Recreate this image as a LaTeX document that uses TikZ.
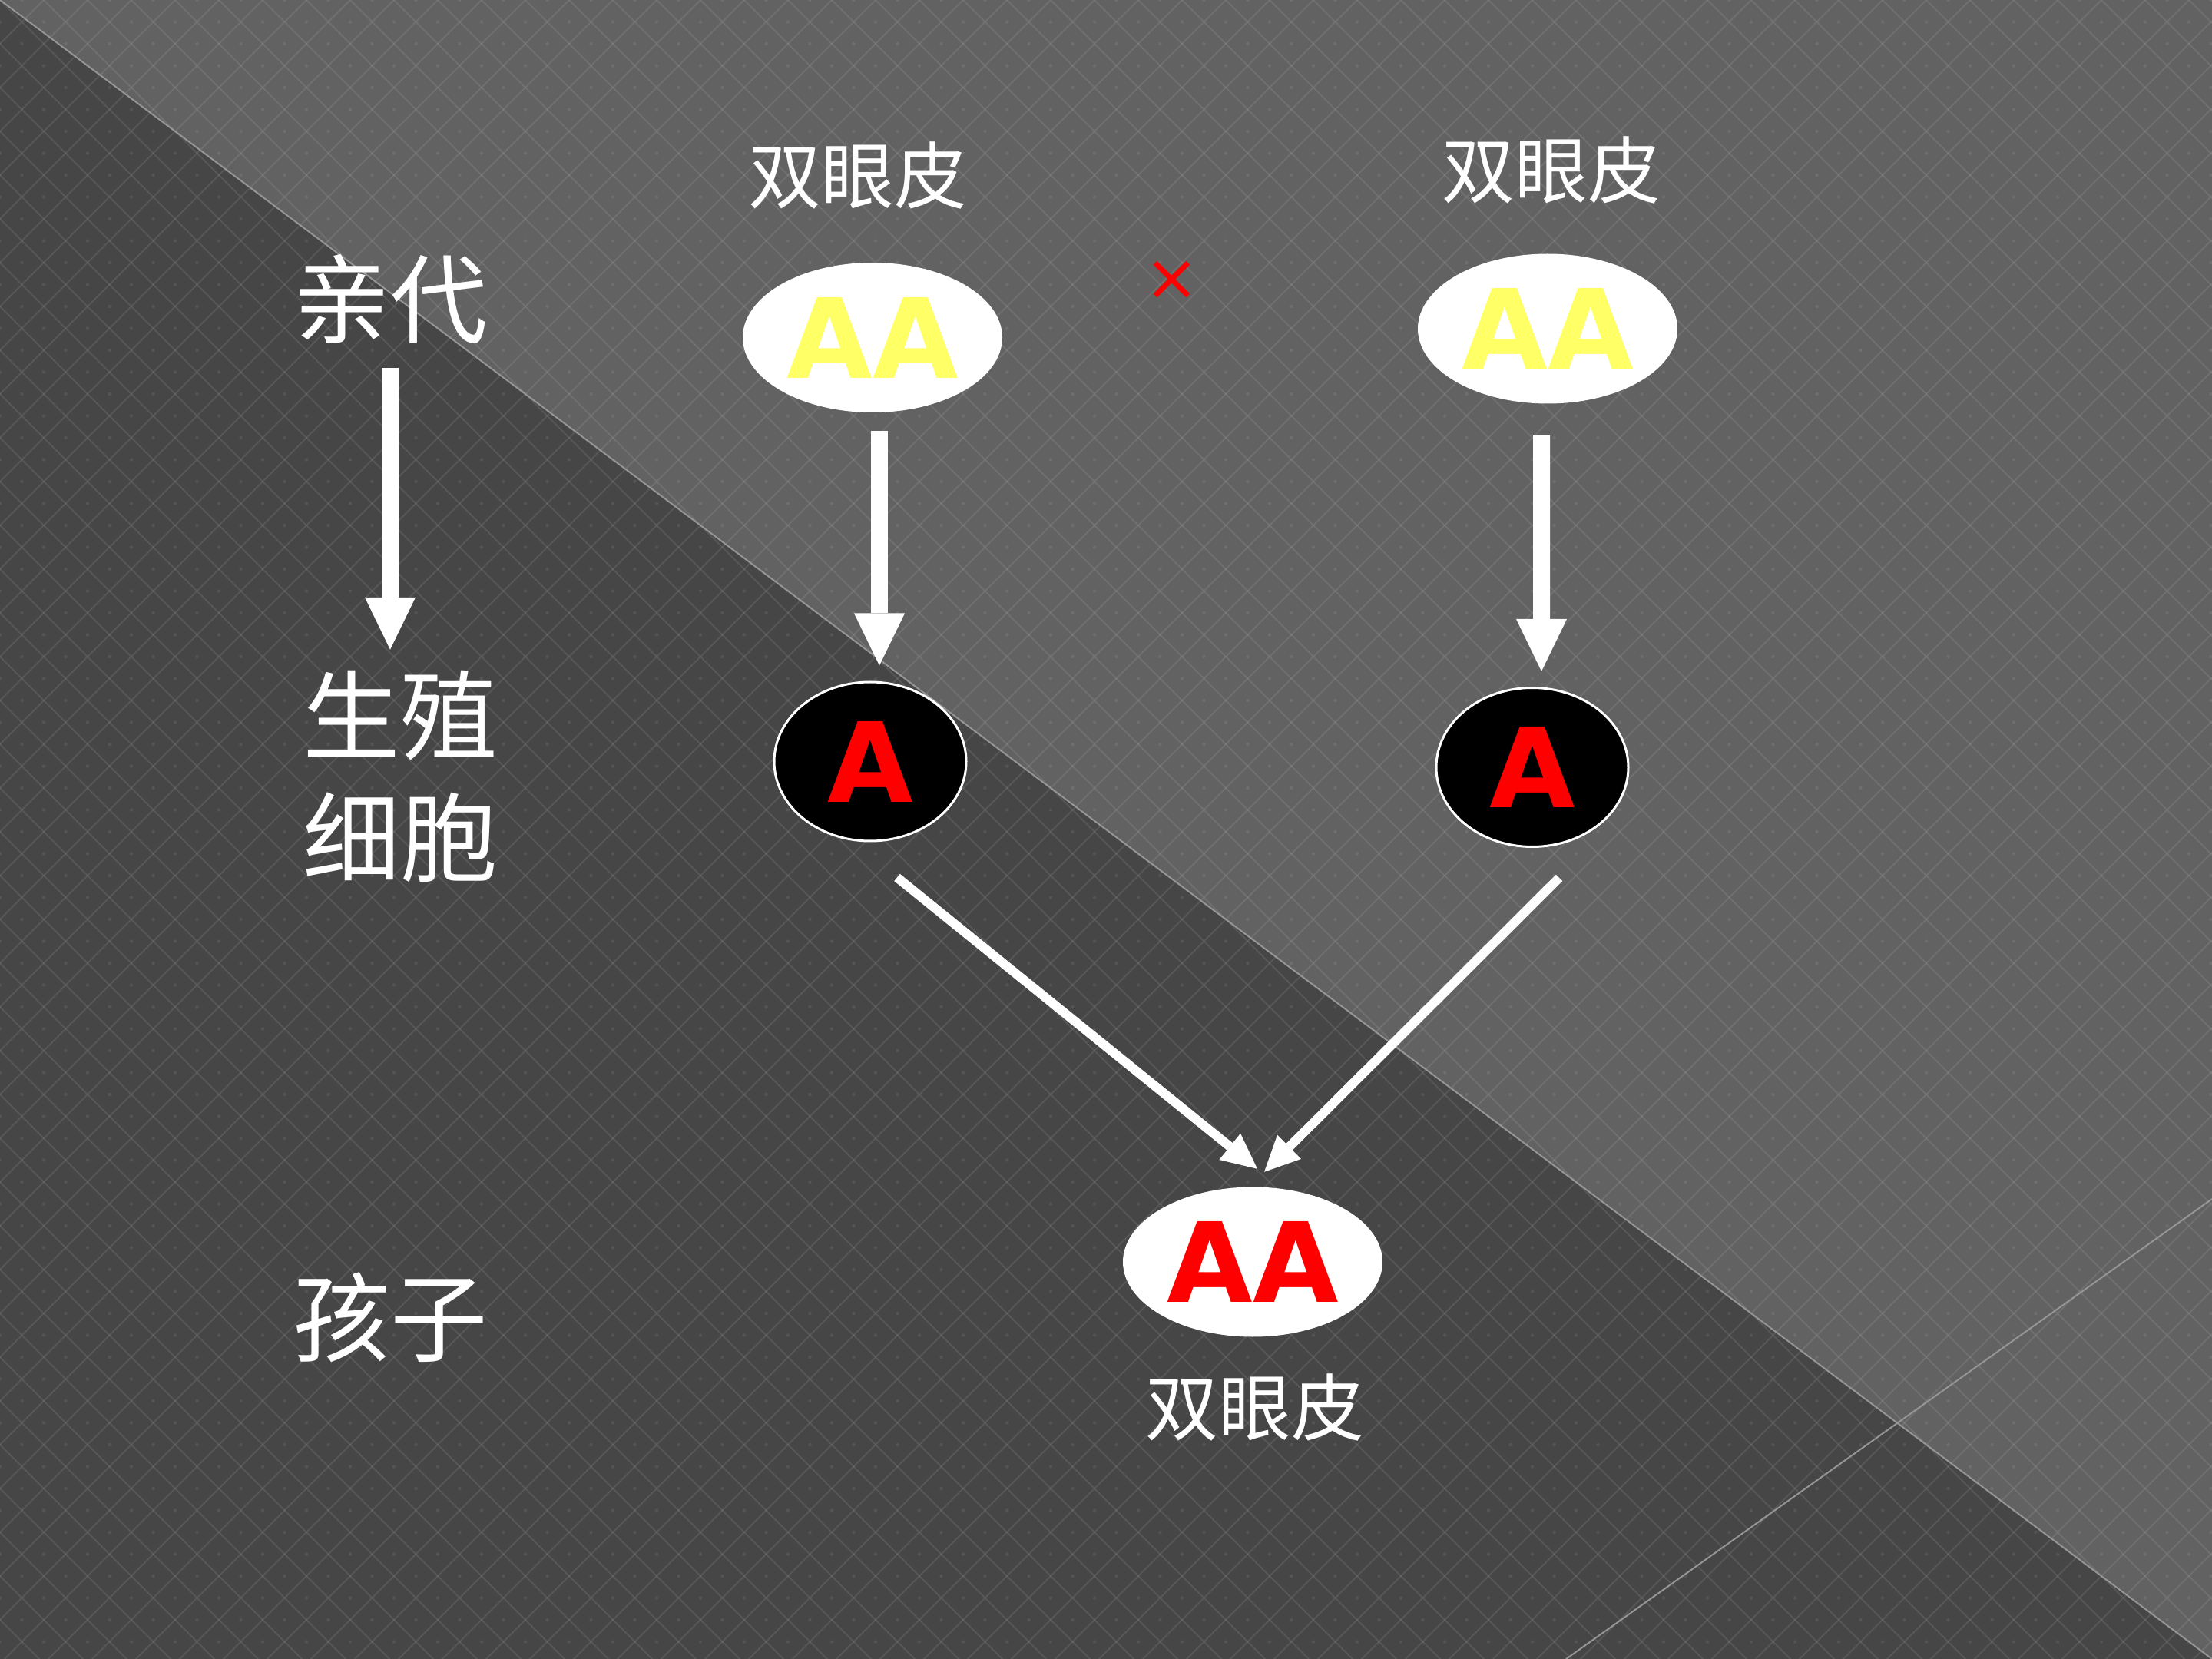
\documentclass[tikz,border=0pt]{standalone}
\usepackage{fontspec}
\usepackage{tikz}
\usetikzlibrary{arrows.meta,shapes.geometric,positioning}
\newfontfamily\cjk{Noto Sans CJK SC}
\newfontfamily\crossfont{DejaVu Sans}
\newfontfamily\handfont{DejaVu Sans}
\definecolor{bgdark}{RGB}{70,70,70}
\definecolor{bglight}{RGB}{98,98,98}
\definecolor{seamgray}{RGB}{150,150,150}
\definecolor{aayellow}{RGB}{255,255,102}

\begin{document}
\begin{tikzpicture}[>=Latex,
  rowlabel/.style={text=white,inner sep=0,align=center,font=\cjk\fontsize{36}{45}\selectfont},
  pheno/.style={text=white,inner sep=0,font=\cjk\fontsize{27}{32}\selectfont},
  parent/.style={ellipse,fill=white,inner sep=0,minimum width=3.38cm,minimum height=1.95cm,
    font=\handfont\bfseries\fontsize{41}{41}\selectfont},
  gamete/.style={ellipse,fill=black,draw=white,line width=0.03cm,inner sep=0,
    minimum width=2.5cm,minimum height=2.07cm,text=red,
    font=\handfont\bfseries\fontsize{41}{41}\selectfont},
  bigarrow/.style={white,line width=0.22cm,-{Triangle[length=0.68cm,width=0.66cm,line width=0pt]}},
  thinarrow/.style={white,line width=0.12cm,-{Triangle[length=0.46cm,width=0.44cm,line width=0pt]}}]
  \useasboundingbox (0,0) rectangle (28.8,-21.6);

  % background
  \fill[bgdark] (0,0) rectangle (28.8,-21.6);
  \fill[bglight] (0,0) -- (28.8,0) -- (28.8,-21.6) -- cycle;
  \begin{scope}
    \clip (0,0) rectangle (28.8,-21.6);
    \foreach \i in {-39,...,51} {
      \draw[white,opacity=0.09,line width=0.02cm] (\i*0.57,0) -- ++(21.66,-21.66);
      \draw[white,opacity=0.09,line width=0.02cm] (\i*0.57,-21.66) -- ++(21.66,21.66);
    }
    \foreach \i in {0,...,50} {
      \foreach \j in {0,...,38} {
        \fill[white,opacity=0.08] (\i*0.57+0.285,-\j*0.57) circle (0.022);
        \fill[white,opacity=0.08] (\i*0.57,-\j*0.57-0.285) circle (0.022);
      }
    }
  \end{scope}
  \draw[seamgray,line width=0.02cm] (0,0) -- (28.8,-21.6);
  \draw[seamgray,line width=0.02cm] (28.8,-15.61) -- (20.39,-21.6);

  % row labels
  \node[rowlabel] (plab) at (5.08,-3.90) {亲代};
  \node[rowlabel] (glab) at (5.21,-10.11) {生殖\\细胞};
  \node[rowlabel] (clab) at (5.08,-17.15) {孩子};
  \draw[bigarrow,shorten <=0.3cm,shorten >=0.27cm] (plab.south) -- (plab.south |- glab.north);

  % parents
  \node[pheno] (ph1) at (11.17,-2.285) {双眼皮};
  \node[pheno] (ph2) at (20.20,-2.21) {双眼皮};
  \node[parent,text=aayellow] (p1) at (11.36,-4.395) {AA};
  \node[parent,text=aayellow] (p2) at (20.15,-4.28) {AA};
  \node[text=red,inner sep=0,font=\crossfont\fontsize{24}{24}\selectfont] (cross) at (15.26,-3.65) {×};

  % gametes
  \node[gamete] (g1) at (11.33,-9.915) {A};
  \node[gamete] (g2) at (19.95,-9.99) {A};
  \draw[bigarrow] ([xshift=0.09cm,yshift=-0.23cm]p1.south) -- ([xshift=0.12cm,yshift=0.2cm]g1.north);
  \draw[bigarrow] ([xshift=-0.08cm,yshift=-0.41cm]p2.south) -- ([xshift=0.12cm,yshift=0.2cm]g2.north);

  % child
  \node[parent,text=red] (f1) at (16.31,-16.43) {AA};
  \node[pheno] (ph3) at (16.34,-18.32) {双眼皮};
  \draw[thinarrow] ([xshift=0.35cm,yshift=-0.46cm]g1.south) -- ([xshift=0.06cm,yshift=0.23cm]f1.north);
  \draw[thinarrow] ([xshift=0.35cm,yshift=-0.39cm]g2.south) -- ([xshift=0.15cm,yshift=0.19cm]f1.north);
\end{tikzpicture}
\end{document}
